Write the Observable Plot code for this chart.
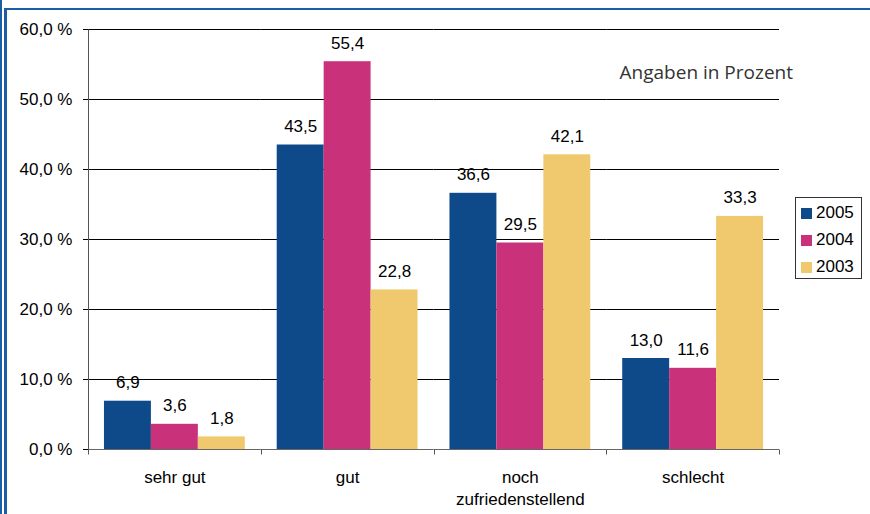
<!DOCTYPE html>
<html>
<head>
<meta charset="utf-8">
<script src="https://cdn.jsdelivr.net/npm/d3@7"></script>
<script src="https://cdn.jsdelivr.net/npm/@observablehq/plot@0.6"></script>
<style>
  html, body { margin: 0; padding: 0; background: #fff; }
  #wrap { position: relative; width: 870px; height: 514px; overflow: hidden; font-family: "Liberation Sans", Arial, sans-serif; }
  #wrap svg { position: absolute; left: 0; top: 0; }
  .b-outer { position: absolute; left: 0; top: 0; width: 2px; height: 514px; background: #1c5ea6; }
  .b-inner-l { position: absolute; left: 4px; top: 8px; width: 3px; height: 506px; background: #1c5ea6; }
  .b-inner-t { position: absolute; left: 4px; top: 8px; width: 866px; height: 2px; background: #1c5ea6; }
  #note { position: absolute; right: 77px; top: 59px; font-family: "Open Sans", sans-serif; font-size: 19px; color: #333; white-space: nowrap; }
  #legend { position: absolute; left: 795px; top: 197px; width: 67px; height: 82px; border: 1px solid #333; box-sizing: border-box; background: #fff; }
  #legend .row { position: absolute; left: 5px; height: 20px; display: flex; align-items: center; font-size: 17px; }
  #legend .sw { width: 11px; height: 11px; margin-right: 4px; }
</style>
</head>
<body>
<div id="wrap">
  <div class="b-outer"></div>
  <div class="b-inner-l"></div>
  <div class="b-inner-t"></div>
  <div id="note">Angaben in Prozent</div>
  <div id="legend"></div>
</div>
<script>
const categories = ["sehr gut", "gut", "noch zufriedenstellend", "schlecht"];
const categoryLabels = ["sehr gut", "gut", "noch\nzufriedenstellend", "schlecht"];
const years = ["2005", "2004", "2003"];
const values2005 = [6.9, 43.5, 36.6, 13.0];
const values2004 = [3.6, 55.4, 29.5, 11.6];
const values2003 = [1.8, 22.8, 42.1, 33.3];
const yTicks = [0, 10, 20, 30, 40, 50, 60];
const colors = ["#0e4a8a", "#c9327a", "#f0c96f"];

const series = [values2005, values2004, values2003];
const data = [];
categories.forEach((c, i) => {
  years.forEach((y, j) => data.push({category: c, year: y, value: series[j][i]}));
});
const catRows = categories.map((c, i) => ({category: c, label: categoryLabels[i]}));

const comma1 = v => v.toFixed(1).replace(".", ",");

const marks = [
  Plot.ruleY(yTicks.filter(d => d > 0), {stroke: "#000", strokeWidth: 1}),
  Plot.barY(data, {fx: "category", x: "year", y: "value", fill: "year"}),
  Plot.ruleY([0], {stroke: "#666", strokeWidth: 1}),
  Plot.text(data, {fx: "category", x: "year", y: "value", text: d => comma1(d.value),
    dy: -13, lineAnchor: "bottom", fontSize: 17, fill: "#000"}),
  Plot.text(catRows, {fx: "category", text: "label", frameAnchor: "bottom",
    lineAnchor: "top", dy: 19, lineHeight: 1.24, fontSize: 17, fill: "#000"})
];
let yOpts = {domain: [0, 60], label: null};
if (Plot.axisY) {
  marks.push(Plot.axisY(yTicks, {tickFormat: d => comma1(d) + " %", tickSize: 5, tickPadding: 11, fontSize: 17, label: null}));
} else {
  Object.assign(yOpts, {ticks: yTicks, tickFormat: d => comma1(d) + " %", tickSize: 5, tickPadding: 11});
}

const chart = Plot.plot({
  width: 870,
  height: 514,
  marginLeft: 88,
  marginRight: 91,
  marginTop: 29,
  marginBottom: 65,
  style: {fontFamily: "'Liberation Sans', Arial, sans-serif", fontSize: "17px", color: "#000", background: "transparent", overflow: "visible"},
  fx: {domain: categories, padding: 0, round: false, axis: null, label: null},
  x: {domain: years, paddingInner: 0, paddingOuter: 0.34, round: false, axis: null},
  y: yOpts,
  color: {domain: years, range: colors},
  marks
});
document.getElementById("wrap").appendChild(chart);

// axis line and group boundary ticks, positioned with the chart's own scales
const fx = chart.scale("fx");
const ys = chart.scale("y");
const bounds = categories.map(c => fx.apply(c));
bounds.push(fx.apply(categories[categories.length - 1]) + fx.bandwidth);
const g = d3.select(chart).append("g").attr("stroke", "#555").attr("stroke-width", 1);
const y0 = ys.apply(0), yTop = ys.apply(60);
g.append("line").attr("x1", bounds[0] + 0.5).attr("x2", bounds[0] + 0.5)
  .attr("y1", yTop + 0.5).attr("y2", y0 + 5.5);
bounds.slice(1).forEach(b => {
  const xb = Math.round(b) + 0.5;
  g.append("line").attr("x1", xb).attr("x2", xb)
    .attr("y1", y0 + 0.5).attr("y2", y0 + 5.5);
});

// legend
const legend = document.getElementById("legend");
const rowTops = [5, 32, 59];
years.forEach((y, i) => {
  const row = document.createElement("div");
  row.className = "row";
  row.style.top = rowTops[i] + "px";
  row.innerHTML = `<span class="sw" style="background:${colors[i]}"></span><span>${y}</span>`;
  legend.appendChild(row);
});
</script>
</body>
</html>
